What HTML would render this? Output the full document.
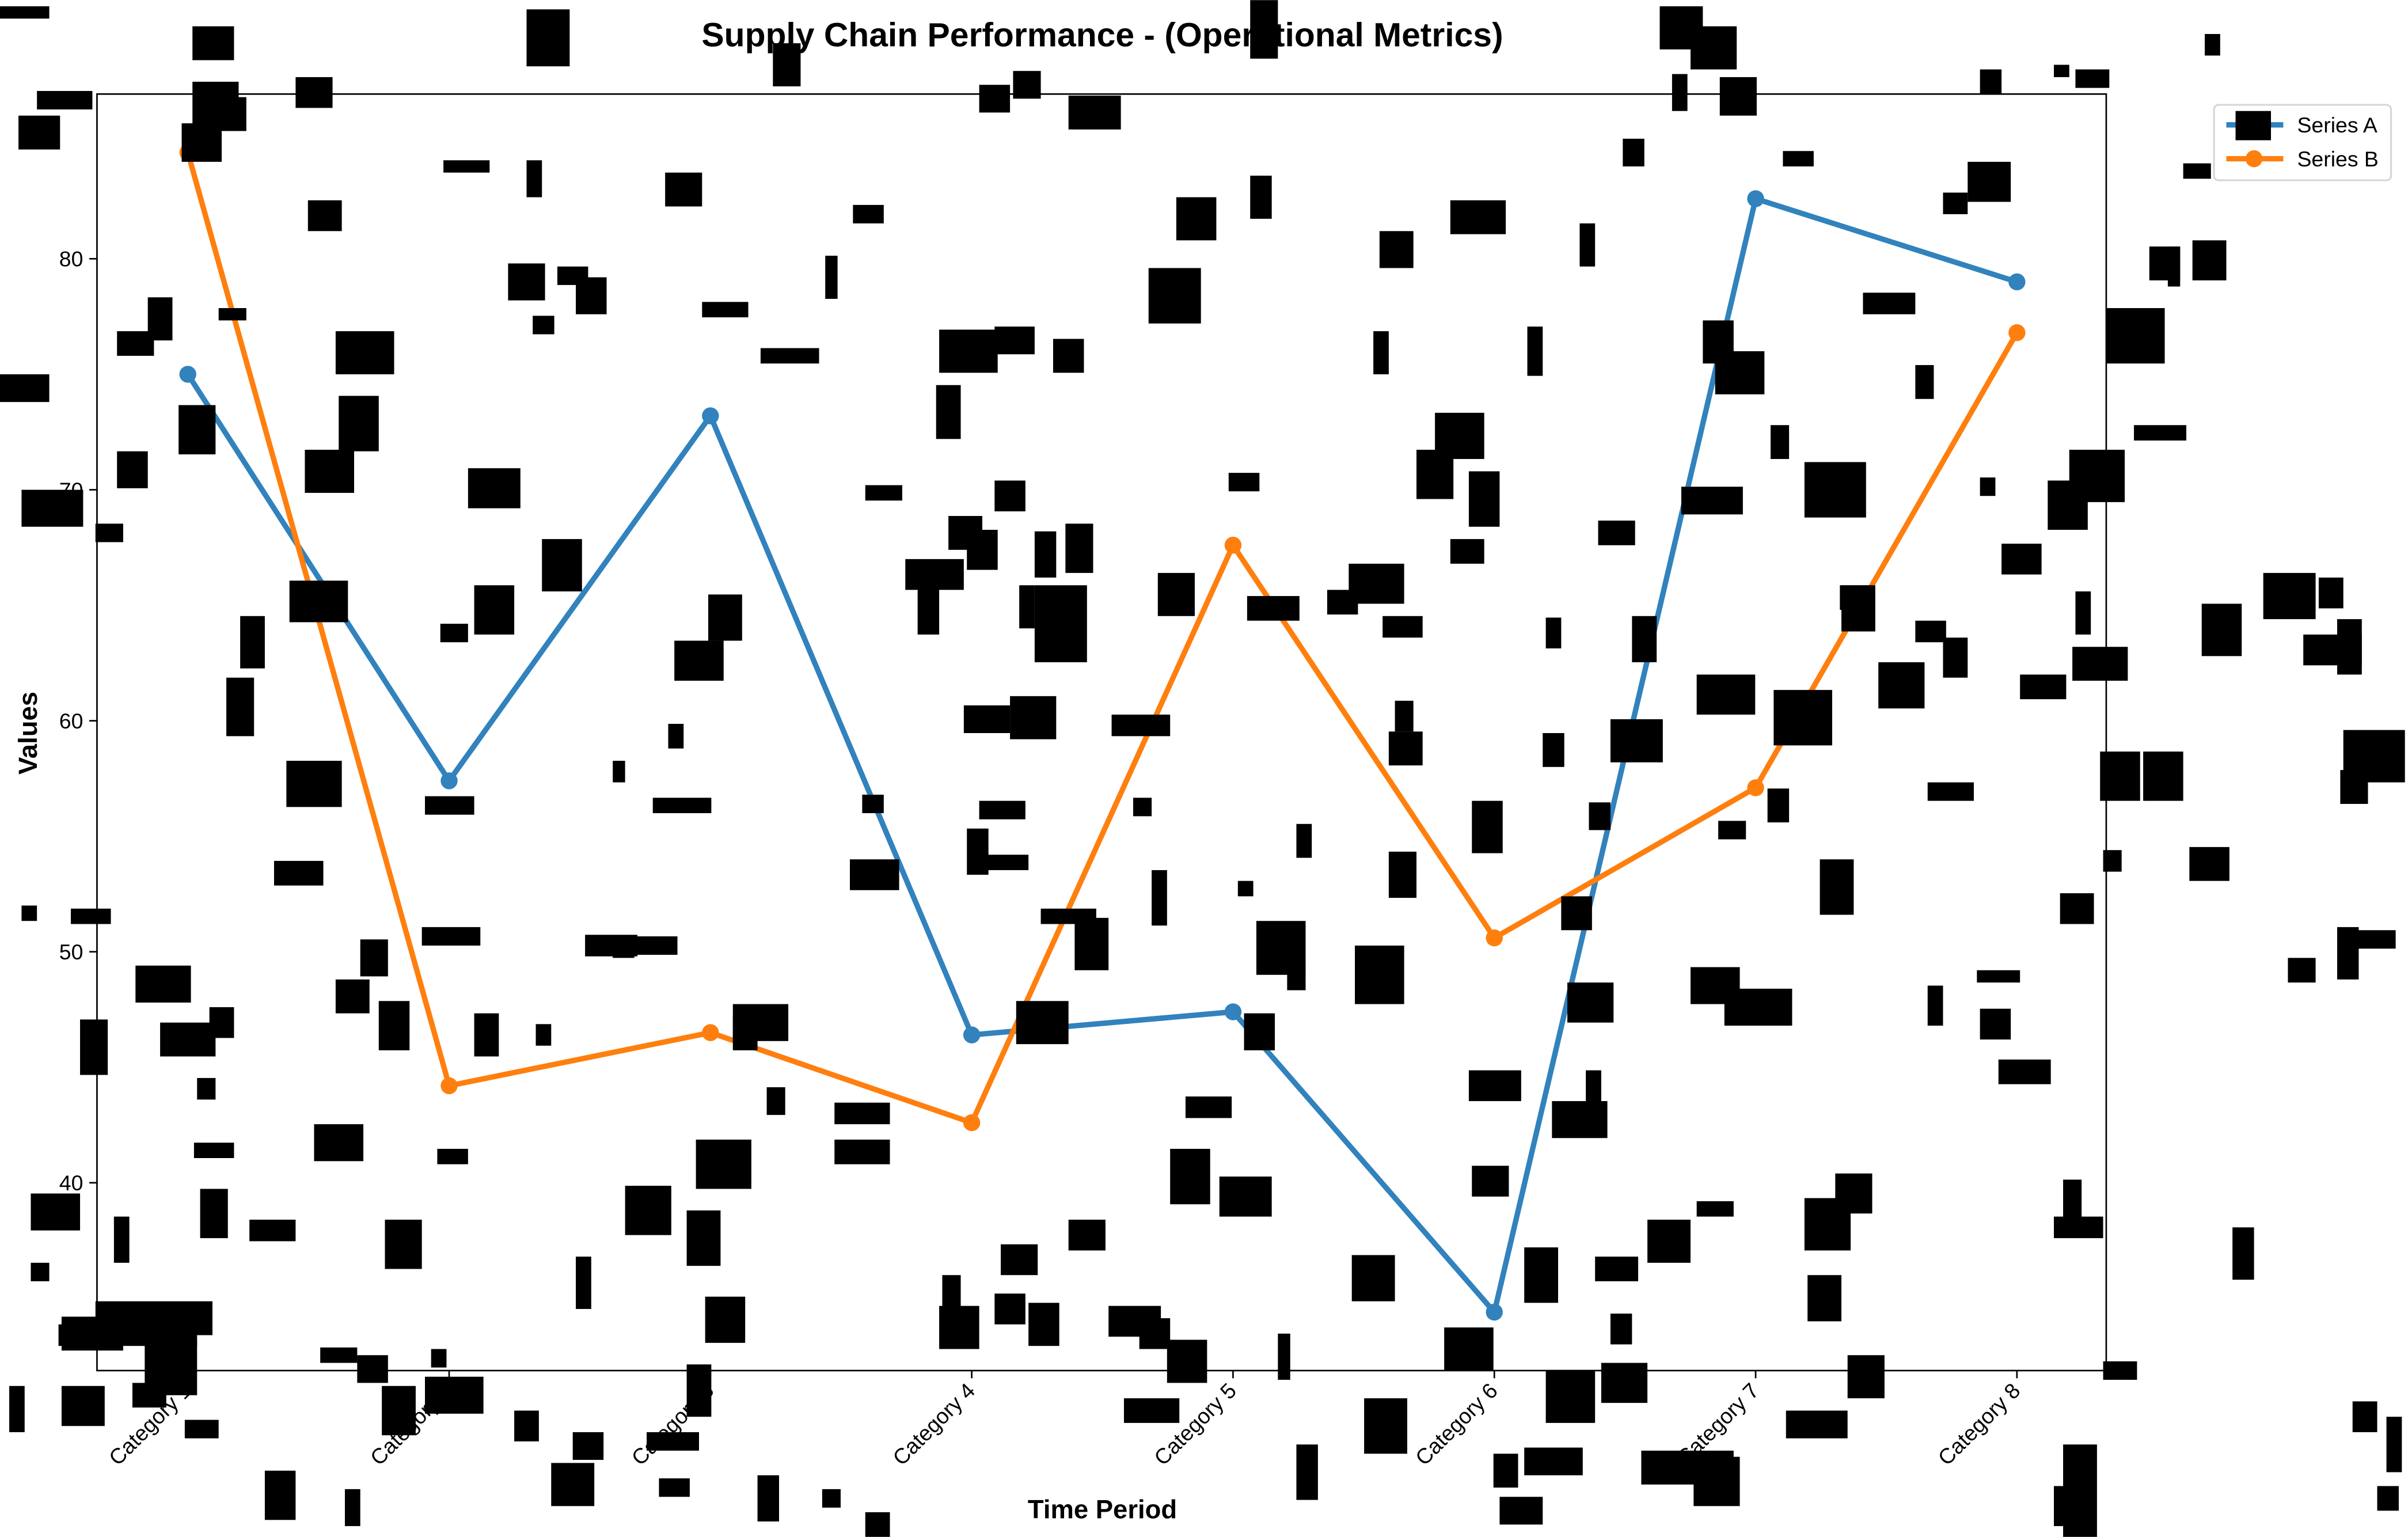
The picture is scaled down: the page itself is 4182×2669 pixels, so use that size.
<!DOCTYPE html>
<html><head><meta charset="utf-8"><style>
html,body{margin:0;padding:0;background:#fff;}
svg{display:block;}
text{font-family:"Liberation Sans",Arial,sans-serif;}
</style></head><body>
<svg id="chart" width="4182" height="2669" viewBox="0 0 1564 998" xmlns="http://www.w3.org/2000/svg">
<rect width="1564" height="998" fill="#fff"/>
<g id="grid"></g>
<g id="series"></g>
<g id="noise"></g>
<g id="axes"></g>
</svg>
<script>
const categories = ["Category 1","Category 2","Category 3","Category 4","Category 5","Category 6","Category 7","Category 8"];
const seriesA = [75.0, 57.4, 73.2, 46.4, 47.4, 34.4, 82.6, 79.0];
const seriesB = [84.6, 44.2, 46.5, 42.6, 67.6, 50.6, 57.1, 76.8];
const yTicks = [40, 50, 60, 70, 80];

const NS = "http://www.w3.org/2000/svg";
const L = 63, R = 1368, T = 61, B = 890;
const yMin = 31.87, yMax = 87.13;
function xScale(i){ return 122 + i * (1310 - 122) / (categories.length - 1); }
function yScale(v){ return B - (v - yMin) / (yMax - yMin) * (B - T); }
function mk(tag, attrs, parent){ const e = document.createElementNS(NS, tag); for (const k in attrs) e.setAttribute(k, attrs[k]); parent.appendChild(e); return e; }

const svg = document.getElementById('chart');
const axes = document.getElementById('axes');
const ser = document.getElementById('series');

// series
function drawSeries(vals, color, name){
  const g = mk('g', {}, ser);
  
  
  const pts = vals.map((v,i)=>xScale(i)+','+yScale(v)).join(' ');
  const pl = mk('polyline', {points: pts, fill:'none', stroke: color, 'stroke-width': 3.5, 'stroke-linejoin':'round', 'stroke-linecap':'round'}, g);
  
  
  vals.forEach((v,i)=>{
    const c = mk('circle', {cx: xScale(i), cy: yScale(v), r: 5.5, fill: color}, g);
    
    
  });
}
drawSeries(seriesA, '#3182bd', 'series-a');
drawSeries(seriesB, '#ff7f0e', 'series-b');

// frame
const frame = mk('rect', {x:L, y:T, width:R-L, height:B-T, fill:'none', stroke:'#000', 'stroke-width':1}, axes);



// y ticks
yTicks.forEach(v=>{
  const y = yScale(v);
  mk('line', {x1:L-5, x2:L, y1:y, y2:y, stroke:'#000', 'stroke-width':1}, axes);
  const t = mk('text', {x:L-9, y:y+5, 'text-anchor':'end', 'font-size':14, fill:'#000'}, axes);
  t.textContent = v;
  
  
});
// x ticks
categories.forEach((c,i)=>{
  const x = xScale(i);
  mk('line', {x1:x, x2:x, y1:B, y2:B+5, stroke:'#000', 'stroke-width':1}, axes);
  const t = mk('text', {x:x+3, y:B+14, 'text-anchor':'end', 'font-size':14, fill:'#000', transform:'rotate(-45 '+(x+3)+' '+(B+14)+')'}, axes);
  t.textContent = c;
  
  
});

// titles
const title = mk('text', {x:716, y:30, 'text-anchor':'middle', 'font-size':22, 'font-weight':'bold', fill:'#000'}, axes);
title.textContent = 'Supply Chain Performance - (Operational Metrics)';


const xt = mk('text', {x:716, y:986, 'text-anchor':'middle', 'font-size':17, 'font-weight':'bold', fill:'#000'}, axes);
xt.textContent = 'Time Period';


const yt = mk('text', {x:24, y:476, 'text-anchor':'middle', 'font-size':17, 'font-weight':'bold', fill:'#000', transform:'rotate(-90 24 476)'}, axes);
yt.textContent = 'Values';



// legend
const lg = mk('g', {}, axes);


mk('rect', {x:1438, y:68, width:115, height:49, rx:3, fill:'#fff', stroke:'#d6d6d6', 'stroke-width':1.2}, lg);
[['Series A','#3182bd',81],['Series B','#ff7f0e',103]].forEach(([n,c,y])=>{
  const e = mk('g', {}, lg);
  
  
  mk('line', {x1:1446, x2:1483, y1:y, y2:y, stroke:c, 'stroke-width':3.5}, e);
  mk('circle', {cx:1464, cy:y, r:5.5, fill:c}, e);
  const t = mk('text', {x:1492, y:y+5, 'font-size':14, fill:'#000'}, e);
  t.textContent = n;
});

// occlusion rectangles
const noiseRects = [[0,4,32,8],[125,17,27,22],[24,59,36,12],[125,53,30,28],[140,63,20,22],[12,75,27,22],[118,80,26,25],[192,50,24,20],[342,6,28,37],[502,28,18,28],[812,0,18,38],[1078,4,28,28],[1098,17,30,28],[1117,50,24,25],[1086,48,10,24],[1432,22,10,14],[1286,45,14,16],[1348,45,22,12],[1334,42,10,8],[636,55,20,18],[658,46,18,18],[694,62,34,22],[432,112,24,22],[288,104,30,8],[342,104,10,24],[200,130,22,20],[554,133,20,12],[330,171,24,24],[362,173,20,12],[374,180,20,24],[346,205,14,12],[456,196,30,10],[536,166,8,28],[494,226,38,10],[218,215,38,28],[220,257,26,36],[198,292,32,28],[186,494,36,30],[178,559,32,16],[188,377,38,27],[304,304,34,26],[308,380,26,32],[352,350,26,34],[286,405,18,12],[76,215,24,16],[96,193,16,28],[142,200,18,8],[116,263,24,32],[76,293,20,24],[14,318,40,24],[62,340,18,12],[0,243,32,18],[156,400,16,34],[147,440,18,38],[610,214,38,28],[646,212,26,18],[684,220,20,22],[608,250,16,35],[562,315,24,10],[588,363,38,20],[596,378,14,34],[616,335,22,22],[628,344,20,26],[646,312,20,20],[672,345,14,30],[692,340,18,32],[662,380,10,28],[672,380,34,50],[764,128,26,28],[746,174,34,36],[812,114,14,28],[752,372,24,28],[798,307,20,12],[810,387,34,16],[862,383,20,16],[876,366,36,26],[898,400,26,14],[896,150,22,24],[892,215,10,28],[942,130,36,22],[932,268,32,30],[920,292,24,32],[954,306,20,36],[942,350,22,16],[992,212,10,32],[1026,145,10,28],[1038,338,24,16],[1054,90,14,18],[1046,467,34,28],[1060,400,16,30],[1092,316,40,18],[1106,208,20,28],[1114,228,32,28],[1150,276,12,22],[1158,98,20,10],[1172,300,40,36],[1196,380,22,30],[1210,190,34,14],[1244,237,12,22],[1278,105,28,26],[1262,125,16,14],[1286,310,10,12],[1330,312,26,32],[1344,292,36,34],[1368,200,38,36],[1386,276,34,10],[1396,160,20,22],[1424,156,22,26],[1408,160,8,26],[1418,106,18,10],[1430,392,26,34],[1470,372,34,30],[1506,375,16,20],[1496,412,38,20],[1518,402,16,36],[1522,474,40,34],[1520,500,18,22],[1364,488,26,32],[1392,488,26,32],[1422,550,26,22],[1486,622,18,16],[1518,602,14,34],[1526,604,30,12],[1346,420,36,22],[1348,384,10,28],[1366,552,12,14],[1338,580,22,20],[1312,438,30,16],[1300,353,26,20],[1252,508,30,12],[1244,403,20,14],[1262,414,16,26],[1220,430,30,30],[1195,380,22,16],[1152,448,38,36],[1102,438,38,26],[1148,512,14,22],[1116,533,18,12],[1182,558,22,36],[1284,630,28,8],[1286,655,20,20],[1298,688,34,16],[1252,640,10,26],[1098,628,32,24],[1120,642,44,24],[1102,780,24,10],[1070,792,28,28],[1172,778,30,34],[1192,762,24,26],[1174,828,22,30],[1160,916,40,18],[1200,880,24,28],[1340,766,12,36],[1334,790,32,14],[1340,938,22,60],[1334,965,14,26],[1450,797,14,34],[1528,910,16,20],[1550,920,10,36],[1544,965,14,16],[1366,884,22,12],[1014,582,20,22],[1018,638,30,26],[1008,715,36,24],[1030,695,10,22],[1002,476,14,22],[1036,816,28,16],[1046,853,14,20],[990,810,22,36],[954,695,34,20],[956,757,24,20],[938,862,32,28],[956,520,20,34],[902,553,18,30],[902,475,22,22],[906,455,12,20],[1004,401,10,20],[1032,521,14,18],[1004,890,32,34],[1040,885,30,26],[990,940,38,18],[970,944,16,22],[974,972,28,18],[1066,942,60,22],[1100,946,30,32],[878,815,28,30],[886,908,28,36],[880,614,32,38],[816,598,32,35],[836,625,12,18],[804,572,10,10],[842,535,10,22],[808,658,20,24],[792,764,34,26],[760,746,26,36],[770,712,30,14],[748,565,10,36],[758,870,26,28],[720,848,34,20],[740,856,20,20],[730,908,36,16],[842,938,14,36],[830,866,8,30],[722,464,38,14],[736,518,12,12],[698,596,22,34],[694,792,24,20],[676,590,36,10],[660,650,34,28],[650,808,24,20],[646,840,20,20],[668,846,20,28],[610,848,26,28],[612,828,12,24],[626,458,30,18],[656,452,30,28],[636,520,30,12],[628,538,14,30],[640,555,28,10],[552,558,32,20],[560,516,14,12],[542,716,36,14],[542,740,36,16],[534,967,12,12],[562,982,16,16],[492,958,14,30],[498,706,12,18],[452,740,36,32],[446,786,22,36],[458,842,26,30],[446,886,16,34],[420,930,34,12],[428,960,20,12],[406,770,30,32],[380,607,34,14],[412,608,28,12],[374,816,10,34],[358,950,28,28],[372,930,20,18],[334,916,16,20],[434,470,10,16],[424,518,38,10],[398,494,8,14],[460,386,22,30],[438,416,32,26],[476,652,36,24],[476,660,16,22],[308,658,16,28],[274,602,38,12],[276,517,32,12],[284,746,20,10],[276,894,38,24],[280,876,10,12],[250,792,24,32],[248,900,22,32],[232,880,20,18],[208,875,24,10],[204,730,32,24],[218,636,22,22],[234,610,18,24],[246,650,20,32],[224,967,10,24],[172,955,20,32],[162,792,30,14],[130,772,18,32],[126,742,26,10],[128,700,12,14],[104,664,36,22],[136,654,16,20],[88,627,36,24],[52,662,18,36],[46,590,26,10],[14,588,10,10],[20,775,32,24],[20,820,12,12],[74,790,10,30],[40,855,40,22],[38,860,90,14],[62,845,76,22],[94,870,34,36],[86,898,22,16],[40,900,28,26],[6,900,10,30],[120,922,22,12],[348,665,10,14],[398,608,14,14]];
const noise = document.getElementById('noise');
noiseRects.forEach(r=>{
  const e = mk('rect', {x:r[0], y:r[1], width:r[2], height:r[3], fill:'#000'}, noise);
  
  
});
// legend marker block for Series A
const lb = mk('rect', {x:1452, y:72, width:23, height:19, fill:'#000'}, axes);


</script>
</body></html>
